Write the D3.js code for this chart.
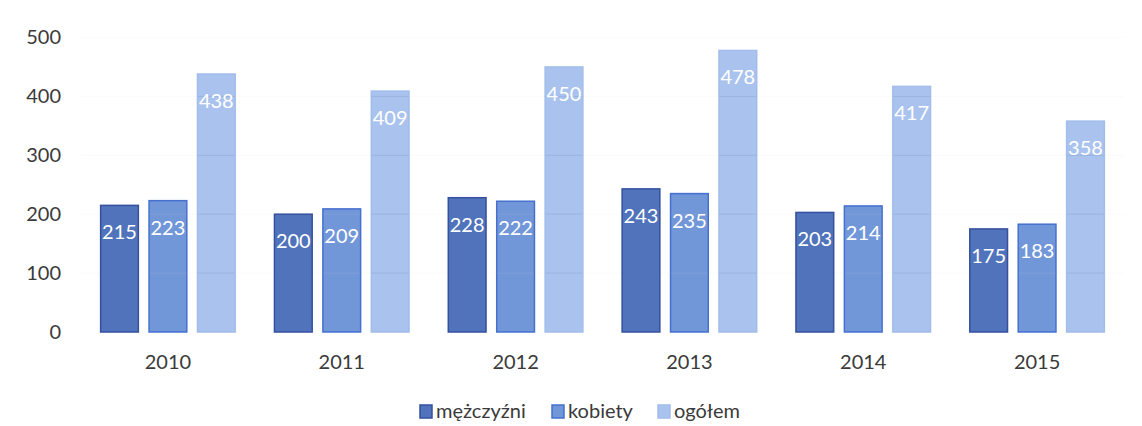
<!DOCTYPE html>
<html><head><meta charset="utf-8">
<script src="https://cdn.jsdelivr.net/npm/d3@7"></script>
<style>body{margin:0;background:#fff}svg{display:block}</style>
</head><body>
<script>
const years = ["2010","2011","2012","2013","2014","2015"];
const seriesNames = ["mężczyźni","kobiety","ogółem"];
const men = [215,200,228,243,203,175];
const women = [223,209,222,235,214,183];
const total = [438,409,450,478,417,358];
const yTicks = [0,100,200,300,400,500];

const W=1142,H=426;
const svg=d3.select("body").append("svg").attr("width",W).attr("height",H);
const m={l:81,r:18,t:38,b:94};
const x=d3.scaleBand().domain(years).range([m.l,W-m.r]).paddingInner(0.22).paddingOuter(0.11);
const x1=d3.scaleBand().domain(seriesNames).range([0,x.bandwidth()]).paddingInner(0.2);
const y=d3.scaleLinear().domain([0,500]).range([332,37.5]);
const fills=["#5073bb","#7297d9","#aac3ee"];
const strokes=["#34509e","#4570cf","#a2bdea"];
const data=[men,women,total];
const font="Lato, 'Open Sans', sans-serif";
const txt="#3a3a3a";

// gridlines (nearly invisible on white)
svg.append("g").selectAll("line").data(yTicks.slice(1)).join("line")
 .attr("x1",m.l).attr("x2",W-m.r).attr("y1",d=>y(d)).attr("y2",d=>y(d))
 .attr("stroke","#fbfbfb").attr("stroke-width",1);

const g=svg.append("g");
seriesNames.forEach((s,si)=>{
  g.selectAll(null).data(years).join("rect")
   .attr("x",(d)=>x(d)+x1(s)+0.5).attr("width",x1.bandwidth()-1)
   .attr("y",(d,i)=>y(data[si][i])).attr("height",(d,i)=>y(0)-y(data[si][i]))
   .attr("fill",fills[si]).attr("stroke",strokes[si]).attr("stroke-width",1.5);
});
// gridlines showing through bars, subtle
seriesNames.forEach((s,si)=>{
  if(si===0) return;
  years.forEach((yr,i)=>{
    yTicks.slice(1).filter(t=>t<data[si][i]).forEach(t=>{
      g.append("line").attr("x1",x(yr)+x1(s)+1).attr("x2",x(yr)+x1(s)+x1.bandwidth()-1)
       .attr("y1",y(t)).attr("y2",y(t)).attr("stroke","#8fa9d6").attr("stroke-opacity",si===1?0.4:0.6).attr("stroke-width",1);
    });
  });
});
// value labels
seriesNames.forEach((s,si)=>{
  g.selectAll(null).data(years).join("text")
   .attr("x",d=>x(d)+x1(s)+x1.bandwidth()/2)
   .attr("y",(d,i)=>y(data[si][i])+34)
   .attr("text-anchor","middle").attr("fill","#fff")
   .attr("font-family",font).attr("font-size",20)
   .text((d,i)=>data[si][i]);
});

// y axis labels
const ya=svg.append("g").attr("transform",`translate(61,0)`)
 .call(d3.axisLeft(y).tickValues(yTicks).tickSize(0).tickPadding(0));
ya.select(".domain").remove();
ya.selectAll("text").attr("font-family",font).attr("font-size",20).attr("fill",txt);

// x axis
const xa=svg.append("g").attr("transform",`translate(0,332)`)
 .call(d3.axisBottom(x).tickSize(0).tickPadding(0));
xa.select(".domain").remove();
xa.selectAll("text").attr("dy",null).attr("y",37).attr("font-family",font).attr("font-size",20).attr("fill",txt);

// legend
const legX=[420,552,658];
const lg=svg.append("g");
seriesNames.forEach((s,i)=>{
  lg.append("rect").attr("x",legX[i]).attr("y",405).attr("width",12).attr("height",13)
    .attr("fill",fills[i]).attr("stroke",strokes[i]).attr("stroke-width",1.5);
  lg.append("text").attr("x",legX[i]+16).attr("y",418).attr("font-family",font).attr("font-size",20)
    .attr("fill",txt).text(s);
});
</script>
</body></html>
